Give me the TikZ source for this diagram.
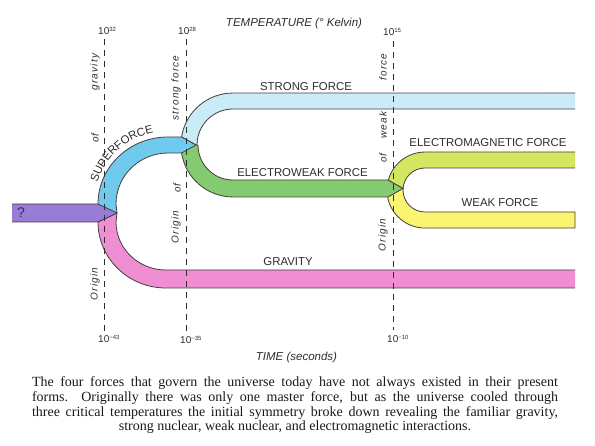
\documentclass[tikz,border=0pt]{standalone}
\usepackage{fontspec}
\setsansfont{Liberation Sans}
\newfontfamily\labfont[LetterSpace=12]{Liberation Sans}
\newfontfamily\capfont{Liberation Serif}
\usetikzlibrary{decorations.text}
\definecolor{purp}{RGB}{152,124,214}
\definecolor{bluec}{RGB}{112,202,238}
\definecolor{lblue}{RGB}{202,236,246}
\definecolor{greenc}{RGB}{132,202,112}
\definecolor{emc}{RGB}{212,230,96}
\definecolor{weakc}{RGB}{250,244,112}
\definecolor{pinkc}{RGB}{240,142,212}
\definecolor{edgec}{RGB}{70,60,62}
\definecolor{dashc}{RGB}{45,45,45}
\definecolor{txtc}{RGB}{45,45,45}
\definecolor{captc}{RGB}{25,25,25}
\begin{document}
\begin{tikzpicture}[x=1pt,y=-1pt,
  band/.style={draw=edgec, line width=0.8pt, line join=round},
  dashln/.style={draw=dashc, line width=1pt, dash pattern=on 6pt off 5pt},
  vlab/.style={rotate=90, font={\labfont\itshape\fontsize{10}{12}\selectfont}, text=txtc, inner sep=0},
  blab/.style={anchor=base, font={\sffamily\fontsize{11.4}{13}\selectfont}, text=txtc, inner sep=0},
  exlab/.style={anchor=base west, font={\sffamily\fontsize{10}{12}\selectfont}, text=txtc, inner sep=0},
  axlab/.style={anchor=base, font={\sffamily\itshape\fontsize{11.5}{13}\selectfont}, text=txtc, inner sep=0}]
\useasboundingbox (0,0) rectangle (595,446);
\newcommand{\supx}[1]{\raisebox{3.8pt}{\fontsize{6}{6}\selectfont #1}}
% bands
\path[band, fill=lblue] (575,109) -- (233,109) arc[start angle=270,end angle=180,radius=36] -- (196,145) -- (181.6,136.9) arc[start angle=189,end angle=270,radius=52] -- (575,93);
\path[band, fill=emc] (575,168) -- (425,168) arc[start angle=270,end angle=180,radius=22] -- (403,188.5) -- (388.3,180.2) arc[start angle=195,end angle=270,radius=38] -- (575,152);
\path[band, fill=weakc] (387.7,197.3) arc[start angle=169,end angle=90,radius=38] -- (575,228) -- (575,212) -- (425,212) arc[start angle=90,end angle=180,radius=22] -- (403,188.5);
\path[band, fill=greenc] (181.6,153.1) arc[start angle=171,end angle=90,radius=52] -- (388,197) -- (403,188.5) -- (388,180) -- (233,180) arc[start angle=90,end angle=180,radius=35] -- (196,145);
\path[band, fill=pinkc] (575,270) -- (166,270) arc[start angle=90,end angle=180,x radius=50,y radius=48] -- (117,213) -- (98,222) arc[start angle=180,end angle=90,x radius=68,y radius=66] -- (575,288);
\path[band, fill=bluec] (98,204) arc[start angle=180,end angle=270,x radius=70,y radius=67] -- (181.6,137) -- (196,145) -- (181.6,153) -- (168,153) arc[start angle=270,end angle=180,x radius=52,y radius=51] -- (117,213);
\path[band, fill=purp] (12,222) -- (98,222) -- (117,213) -- (98,204) -- (12,204);
% dashed lines
\coordinate (t1) at (104,39); \coordinate (b1) at (104,332);
\coordinate (t2) at (186,39); \coordinate (b2) at (186,332);
\coordinate (t3) at (393,41); \coordinate (b3) at (393,330);
\draw[dashln] (t1) -- (b1);
\draw[dashln] (t2) -- (b2);
\draw[dashln] (t3) -- (b3);
% superforce
\path[decorate, decoration={text along path, text align=center,
  text={|\sffamily\fontsize{11.4}{13}\selectfont\color{txtc}|SUPERFORCE}}]
  (96.5,186.5) arc[start angle=194,end angle=262,radius=73];
% labels
\node[anchor=center, font={\sffamily\fontsize{14}{16}\selectfont}, text={rgb,255:red,55;green,40;blue,85}, inner sep=0] (q) at (21,213) {?};
\node[blab] (sf) at (306,90.5) {STRONG FORCE};
\node[blab] (ew) at (302.5,176.5) {ELECTROWEAK FORCE};
\node[blab] (em) at (488,147) {ELECTROMAGNETIC FORCE};
\node[blab] (wf) at (500,207) {WEAK FORCE};
\node[blab] (gr) at (288,266) {GRAVITY};
\node[vlab] (g1) at (95,72) {gravity};
\node[vlab] (g2) at (95,138) {of};
\node[vlab] (g3) at (95,284) {Origin};
\node[vlab] (s1) at (176,88) {strong force};
\node[vlab] (s2) at (177,188) {of};
\node[vlab] (s3) at (176,227) {Origin};
\node[vlab] (w1) at (383,67) {force};
\node[vlab] (w2) at (383,125) {weak};
\node[vlab] (w3) at (383,158) {of};
\node[vlab] (w4) at (383,235) {Origin};
\node[exlab] (e1) at (98,35) {10\supx{32}};
\node[exlab] (e2) at (178,35) {10\supx{28}};
\node[exlab] (e3) at (383,36) {10\supx{15}};
\node[exlab] (f1) at (98,343) {10\supx{−43}};
\node[exlab] (f2) at (180,344) {10\supx{−35}};
\node[exlab] (f3) at (387,343) {10\supx{−10}};
\node[axlab] (temp) at (294,27) {TEMPERATURE (° Kelvin)};
\node[axlab] (time) at (296.5,361) {TIME (seconds)};
% caption
\node[anchor=base, inner sep=0, text=captc] (cap) at (295,387) {\begin{minipage}[t]{526pt}\capfont\fontsize{14}{14.6}\selectfont
\hbox to \linewidth{The four forces that govern the universe today have not always existed in their present}
\hbox to \linewidth{forms.\ \ Originally there was only one master force, but as the universe cooled through}
\hbox to \linewidth{three critical temperatures the initial symmetry broke down revealing the familiar gravity,}
\hbox to \linewidth{\hfil strong nuclear, weak nuclear, and electromagnetic interactions.\hfil}
\end{minipage}};
\end{tikzpicture}
\end{document}
